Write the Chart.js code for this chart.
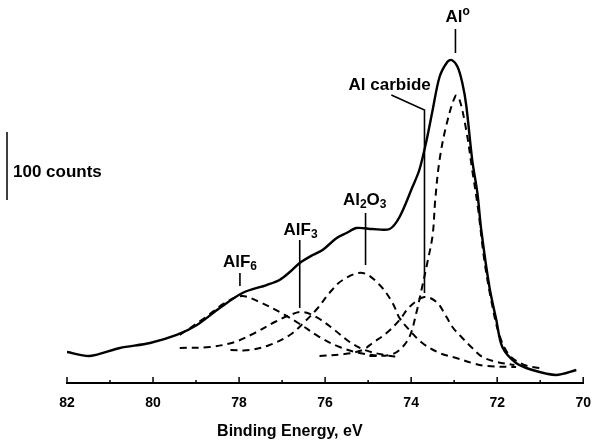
<!DOCTYPE html>
<html>
<head>
<meta charset="utf-8">
<script src="https://cdn.jsdelivr.net/npm/chart.js@4.4.0/dist/chart.umd.min.js"></script>
<style>
  html, body { margin: 0; padding: 0; background: #fff; }
</style>
</head>
<body>
<canvas id="xps" width="595" height="443"></canvas>
<script>
// Al 2p spectrum: binding energy (eV) and counts
const totalEnergy = [82.00, 81.47, 80.77, 80.07, 79.45, 78.98, 78.45, 77.92, 77.36, 77.06, 76.82, 76.59, 76.29, 76.06, 75.73, 75.50, 75.27, 74.90, 74.50, 74.27, 73.97, 73.81, 73.64, 73.50, 73.34, 73.16, 73.06, 72.92, 72.81, 72.72, 72.58, 72.46, 72.37, 72.18, 72.02, 71.88, 71.56, 71.18, 70.63, 70.16];
const totalCounts = [45.6, 39.7, 51.5, 58.8, 70.6, 85.3, 110.3, 132.4, 144.1, 151.5, 163.2, 176.5, 188.2, 195.6, 213.2, 220.6, 227.9, 226.5, 226.5, 244.1, 288.2, 313.2, 357.4, 401.5, 450.0, 472.0, 475.0, 464.7, 441.2, 408.8, 327.9, 279.4, 225.0, 141.2, 92.6, 52.9, 29.4, 19.1, 11.8, 19.1];

// fitted components (dashed)
const alf6Energy = [79.38, 78.80, 78.33, 77.94, 77.52, 77.06, 76.59, 76.13, 75.66, 75.20, 74.73];
const alf6Counts = [70.6, 95.6, 117.6, 127.9, 119.1, 104.4, 86.8, 67.6, 52.9, 44.1, 39.7];

const alf3Energy = [79.38, 78.68, 78.10, 77.64, 77.17, 76.82, 76.52, 76.17, 75.78, 75.43, 75.08, 74.62, 74.27];
const alf3Counts = [51.5, 52.9, 60.3, 73.5, 89.7, 100.0, 104.4, 95.6, 77.9, 60.3, 48.5, 41.2, 38.2];

const oxideEnergy = [78.20, 77.75, 77.29, 76.82, 76.48, 76.17, 75.90, 75.59, 75.13, 74.73, 74.43, 74.27, 74.04, 73.74, 73.34, 72.95, 72.58, 72.25, 71.56];
const oxideCounts = [48.5, 48.5, 55.9, 70.6, 89.7, 110.3, 132.4, 151.5, 161.8, 144.1, 117.6, 95.6, 77.9, 58.8, 44.1, 36.8, 29.4, 25.0, 23.5];

const carbideEnergy = [76.13, 75.55, 75.13, 74.90, 74.57, 74.27, 74.04, 73.69, 73.41, 73.23, 73.04, 72.81, 72.58, 72.34, 72.00, 71.60];
const carbideCounts = [39.7, 42.6, 48.5, 58.8, 73.5, 92.6, 111.8, 126.5, 119.1, 102.9, 82.4, 66.2, 51.5, 38.2, 30.9, 26.5];

const metalEnergy = [74.97, 74.50, 74.27, 74.04, 73.88, 73.76, 73.62, 73.50, 73.44, 73.34, 73.18, 72.97, 72.88, 72.72, 72.58, 72.44, 72.30, 72.14, 71.95, 71.72, 71.37, 71.02];
const metalCounts = [39.7, 41.2, 48.5, 67.6, 102.9, 136.8, 177.9, 217.6, 269.1, 327.9, 379.4, 422.1, 417.6, 372.1, 313.2, 254.4, 180.9, 122.1, 70.6, 41.2, 26.5, 22.1];

const energyTicks = [82, 80, 78, 76, 74, 72, 70];

const pts = (xs, ys) => xs.map((x, i) => ({ x: x, y: ys[i] }));
const FONT = '"Liberation Sans", Arial, sans-serif';

function dashed(xs, ys) {
  return {
    data: pts(xs, ys),
    borderColor: '#000',
    borderWidth: 2,
    borderDash: [7, 5],
    pointRadius: 0,
    showLine: true,
    tension: 0.35
  };
}

// draw text with sub/superscripts, centred on cx
function richText(ctx, parts, cx, cy, size) {
  const fontFor = k => 'bold ' + (k ? Math.round(size * 0.68) : size) + 'px ' + FONT;
  const widths = parts.map(([t, k]) => { ctx.font = fontFor(k); return ctx.measureText(t).width; });
  let x = cx - widths.reduce((a, b) => a + b, 0) / 2;
  parts.forEach(([t, k], i) => {
    ctx.font = fontFor(k);
    const dy = k === 'sub' ? size * 0.3 : k === 'sup' ? -size * 0.3 : 0;
    ctx.fillText(t, x, cy + dy);
    x += widths[i];
  });
}

const annotate = {
  id: 'annotate',
  afterDraw(chart) {
    const ctx = chart.ctx;
    const xs = chart.scales.x, ys = chart.scales.y;
    const X = v => xs.getPixelForValue(v), Y = v => ys.getPixelForValue(v);
    const axisY = xs.top;
    ctx.save();
    ctx.strokeStyle = '#000';
    ctx.fillStyle = '#000';

    // ticks pointing up from the axis
    ctx.lineWidth = 1.5;
    for (let v = 70; v <= 82; v++) {
      const len = v % 2 === 0 ? 6 : 3;
      ctx.beginPath();
      ctx.moveTo(X(v), axisY);
      ctx.lineTo(X(v), axisY - len);
      ctx.stroke();
    }

    // leader lines
    const line = (p) => {
      ctx.beginPath();
      ctx.moveTo(X(p[0][0]), Y(p[0][1]));
      p.slice(1).forEach(q => ctx.lineTo(X(q[0]), Y(q[1])));
      ctx.stroke();
    };
    ctx.lineWidth = 1.6;
    line([[72.97, 520.6], [72.97, 485.3]]);
    line([[74.46, 423.5], [73.69, 401.5], [73.69, 132.4]]);
    line([[75.06, 250.0], [75.06, 173.5]]);
    line([[76.59, 210.3], [76.59, 110.3]]);
    line([[77.98, 161.8], [77.98, 142.6]]);

    // peak labels
    ctx.textBaseline = 'middle';
    ctx.textAlign = 'left';
    richText(ctx, [['Al', ''], ['o', 'sup']], X(72.92), Y(538.2), 17);
    richText(ctx, [['Al carbide', '']], X(74.50), Y(438.2), 17);
    richText(ctx, [['Al', ''], ['2', 'sub'], ['O', ''], ['3', 'sub']], X(75.08), Y(269.1), 17);
    richText(ctx, [['AlF', ''], ['3', 'sub']], X(76.57), Y(225.0), 17);
    richText(ctx, [['AlF', ''], ['6', 'sub']], X(77.98), Y(177.9), 17);

    // 100 counts scale bar
    const barTop = 132, barLen = Y(0) - Y(100);
    ctx.lineWidth = 1.5;
    ctx.beginPath();
    ctx.moveTo(7, barTop);
    ctx.lineTo(7, barTop + barLen);
    ctx.stroke();
    ctx.font = 'bold 17px ' + FONT;
    ctx.fillText('100 counts', 13, 172);

    // axis title
    ctx.textAlign = 'center';
    ctx.font = 'bold 16px ' + FONT;
    ctx.fillText('Binding Energy, eV', X(76.82), 432);
    ctx.restore();
  }
};

new Chart(document.getElementById('xps'), {
  type: 'scatter',
  data: {
    datasets: [
      {
        data: pts(totalEnergy, totalCounts),
        borderColor: '#000',
        borderWidth: 2.4,
        pointRadius: 0,
        showLine: true,
        tension: 0.3
      },
      dashed(metalEnergy, metalCounts),
      dashed(carbideEnergy, carbideCounts),
      dashed(oxideEnergy, oxideCounts),
      dashed(alf3Energy, alf3Counts),
      dashed(alf6Energy, alf6Counts)
    ]
  },
  plugins: [annotate],
  options: {
    responsive: false,
    animation: false,
    devicePixelRatio: 1,
    layout: { padding: { left: 67, right: 4, top: 9, bottom: 0 } },
    plugins: { legend: { display: false }, tooltip: { enabled: false } },
    scales: {
      x: {
        type: 'linear',
        reverse: true,
        min: 70,
        max: 82,
        afterBuildTicks: (scale) => { scale.ticks = energyTicks.map(v => ({ value: v })); },
        afterFit: (scale) => { scale.height = 60; },
        grid: { display: false },
        border: { display: true, color: '#000', width: 2 },
        ticks: {
          color: '#000',
          padding: 4,
          maxRotation: 0,
          font: { family: FONT, size: 14, weight: 'bold' }
        }
      },
      y: {
        display: false,
        min: 0,
        max: 550
      }
    }
  }
});
</script>
</body>
</html>
